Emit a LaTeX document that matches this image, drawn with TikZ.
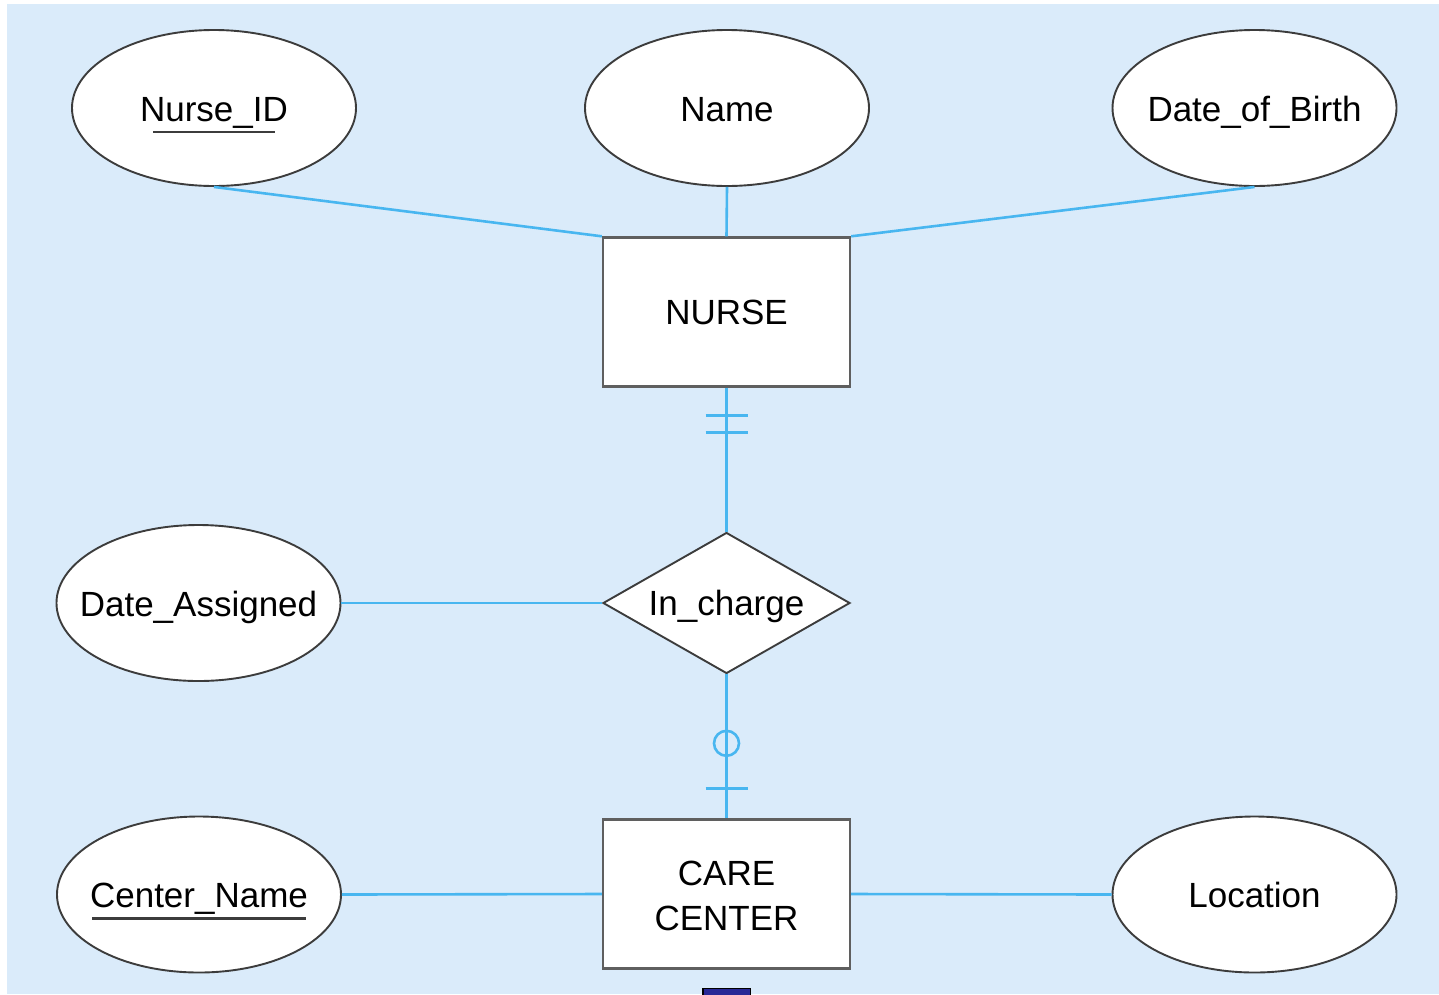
\documentclass[tikz,border=0pt]{standalone}
\usepackage{fontspec}
\setmainfont{Liberation Sans}
\usetikzlibrary{shapes.geometric,calc}
\definecolor{bgblue}{RGB}{218,235,250}
\definecolor{linkblue}{RGB}{72,182,240}
\definecolor{edgegray}{RGB}{60,60,60}
\definecolor{boxgray}{RGB}{95,95,95}
\definecolor{markblue}{RGB}{40,40,150}
% zero-width label so the shape keeps its set size
\newcommand\fixedlabel[1]{\makebox[0pt][c]{#1}}
\begin{document}
\begin{tikzpicture}[x=1pt,y=-1pt,
  every node/.style={font=\fontsize{35}{36}\selectfont, text=black},
  attr/.style={ellipse, draw=edgegray, line width=1.9pt, fill=white,
    minimum width=284, minimum height=156, inner sep=0pt,
    text height=26pt, text depth=0pt},
  entity/.style={rectangle, draw=boxgray, line width=2.4pt, fill=white,
    minimum width=247, minimum height=149, inner sep=0pt, align=center},
  relation/.style={diamond, draw=edgegray, line width=1.9pt, fill=white,
    minimum width=247, minimum height=141, inner sep=0pt,
    text height=24pt, text depth=0pt},
  link/.style={draw=linkblue, line width=2.6pt},
  keyline/.style={draw=edgegray, line width=2.2pt}]
  % canvas
  \useasboundingbox (0,0) rectangle (1439,994);
  \fill[white] (0,0) rectangle (1439,994);
  \fill[bgblue] (7,4) rectangle (1439,994);

  % entities and relationship
  \node[entity, text height=25pt, text depth=0pt] (nurse) at (726.5,312) {NURSE};
  \node[relation] (incharge) at (726.5,603) {\fixedlabel{In\_charge}};
  \node[entity, font=\fontsize{35}{45}\selectfont, text height=72pt, text depth=0pt]
    (care) at (726.5,894) {CARE\\CENTER};

  % attributes
  \node[attr] (nid) at (214,108) {\fixedlabel{Nurse\_ID}};
  \node[attr] (name) at (727,108) {\fixedlabel{Name}};
  \node[attr] (dob) at (1254.5,108) {\fixedlabel{Date\_of\_Birth}};
  \node[attr] (dassigned) at (198.5,603) {\fixedlabel{Date\_Assigned}};
  \node[attr] (cname) at (199,894.5) {\fixedlabel{Center\_Name}};
  \node[attr] (loc) at (1254.5,894.5) {\fixedlabel{Location}};

  % attribute links
  \path[link] (nid.south) -- (nurse.north west);
  \path[link] (name.south) -- (nurse.north);
  \path[link] (dob.south) -- (nurse.north east);
  \path[link] (dassigned.east) -- (incharge.west);
  \path[link] (cname.east) -- (care.west);
  \path[link] (care.east) -- (loc.west);

  % relationship links
  \path[link] (nurse.south) -- (incharge.north);
  \path[link] (incharge.south) -- (care.north);

  % cardinality: exactly one (NURSE side)
  \path[link] ($(nurse.south)+(-21,28)$) -- ($(nurse.south)+(21,28)$);
  \path[link] ($(nurse.south)+(-21,45)$) -- ($(nurse.south)+(21,45)$);
  % cardinality: zero or one (CARE CENTER side)
  \path[link] ($(care.north)+(0,-75)$) circle[radius=12.5];
  \path[link] ($(care.north)+(-21,-30)$) -- ($(care.north)+(21,-30)$);

  % primary key underlines
  \path[keyline] ($(nid)+(-61,24)$) -- ($(nid)+(61,24)$);
  \path[keyline] ($(cname)+(-107,24)$) -- ($(cname)+(107,24)$);

  % small marker below CARE CENTER
  \filldraw[fill=markblue, draw=black, line width=1.5pt] (703,988.5) rectangle (750.5,996);
\end{tikzpicture}
\end{document}
